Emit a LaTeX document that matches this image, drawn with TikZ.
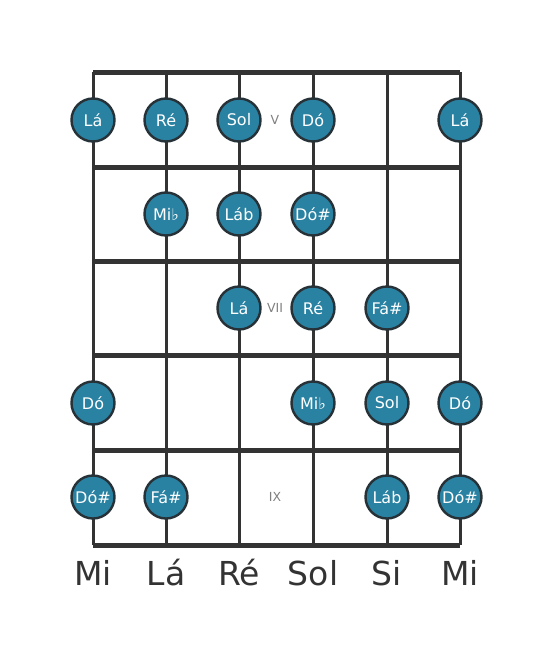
\documentclass[tikz,border=0pt]{standalone}
\usepackage{fontspec}
\setmainfont{DejaVu Sans}
\definecolor{notefill}{HTML}{2A82A2}
\definecolor{noteline}{HTML}{263238}
\definecolor{wood}{HTML}{333333}
\tikzset{
  note/.style={circle, fill=notefill, draw=noteline, line width=2.4pt,
    minimum size=43pt, inner sep=0pt, text=white, font=\fontsize{16}{16}\selectfont},
  fretno/.style={text=gray, font=\fontsize{12.5}{12.5}\selectfont},
  tuning/.style={text=wood, font=\fontsize{33}{33}\selectfont}
}
\begin{document}
\begin{tikzpicture}[x=1pt,y=-1pt]
 \useasboundingbox (0,0) rectangle (553,656);
 % strings
 \foreach \x in {93,166,239,313,387,460}
   \draw[wood, line width=3pt] (\x,72) -- (\x,545);
 % frets
 \foreach \y in {72,167,261,355,450,545}
   \draw[wood, line width=5pt] (93,\y) -- (460,\y);

 \node[fretno] (v) at (275,120) {V};
 \node[fretno] (vii) at (275,308) {VII};
 \node[fretno] (ix) at (275,497) {IX};

 \node[note] (la1) at (93,120) {Lá};
 \node[note] (re1) at (166,120) {Ré};
 \node[note] (sol1) at (239,120) {Sol};
 \node[note] (do1) at (313,120) {Dó};
 \node[note] (la2) at (460,120) {Lá};

 \node[note] (mib1) at (166,214) {Mi♭};
 \node[note] (lab1) at (239,214) {Láb};
 \node[note] (dos1) at (313,214) {Dó\#};

 \node[note] (la3) at (239,308) {Lá};
 \node[note] (re2) at (313,308) {Ré};
 \node[note] (fas1) at (387,308) {Fá\#};

 \node[note] (do2) at (93,403) {Dó};
 \node[note] (mib2) at (313,403) {Mi♭};
 \node[note] (sol2) at (387,403) {Sol};
 \node[note] (do3) at (460,403) {Dó};

 \node[note] (dos2) at (93,497) {Dó\#};
 \node[note] (fas2) at (166,497) {Fá\#};
 \node[note] (lab2) at (387,497) {Láb};
 \node[note] (dos3) at (460,497) {Dó\#};

 \node[tuning] (s6) at (93,573) {Mi};
 \node[tuning] (s5) at (166,573) {Lá};
 \node[tuning] (s4) at (239,573) {Ré};
 \node[tuning] (s3) at (313,573) {Sol};
 \node[tuning] (s2) at (387,573) {Si};
 \node[tuning] (s1) at (460,573) {Mi};
\end{tikzpicture}
\end{document}
